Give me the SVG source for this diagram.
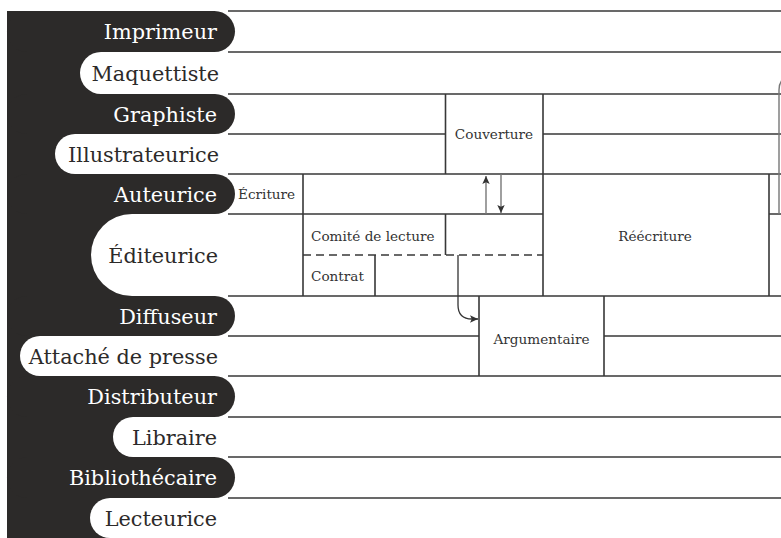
<svg xmlns="http://www.w3.org/2000/svg" width="781" height="538" viewBox="0 0 781 538">
<defs>
<style>
.lbl{font-family:"DejaVu Serif","Liberation Serif",serif;font-size:20.8px;text-anchor:end}
.dk{fill:#2c2a29}
.wt{fill:#ffffff}
.tw{fill:#ffffff}
.td{fill:#2c2a29}
.ln{stroke:#383838;stroke-width:1.6;fill:none}
.dash{stroke:#383838;stroke-width:1.7;fill:none;stroke-dasharray:8 5}
.sm{font-family:"DejaVu Serif","Liberation Serif",serif;font-size:13.6px;fill:#333}
.ar{stroke:#777;stroke-width:1.4;fill:none}
.ard{stroke:#333;stroke-width:1.3;fill:none}
</style>
<marker id="ah" markerWidth="10" markerHeight="10" refX="8" refY="4.5" orient="auto" markerUnits="userSpaceOnUse"><path d="M0,0.8 L8,4.5 L0,8.2 L1.8,4.5 Z" fill="#333"/></marker>
</defs>
<rect width="781" height="538" fill="#ffffff"/>
<rect x="7" y="11" width="208" height="527" class="dk"/>

<g id="roles">
<g id="imprimeur"><rect x="7" y="11" width="228" height="41" rx="20.5" class="dk"/><text x="217" y="39" class="lbl tw">Imprimeur</text></g>
<g id="maquettiste"><rect x="80" y="52" width="800" height="42" rx="21" class="wt"/><text x="219" y="80.5" class="lbl td">Maquettiste</text></g>
<g id="graphiste"><rect x="7" y="94" width="228" height="40" rx="20" class="dk"/><text x="217" y="121.5" class="lbl tw">Graphiste</text></g>
<g id="illustrateurice"><rect x="55" y="134" width="800" height="40" rx="20" class="wt"/><text x="219" y="161.5" class="lbl td">Illustrateurice</text></g>
<g id="auteurice"><rect x="7" y="174" width="228" height="40" rx="20" class="dk"/><text x="217" y="201.5" class="lbl tw">Auteurice</text></g>
<g id="editeurice"><rect x="91" y="214" width="800" height="82" rx="41" class="wt"/><text x="218" y="262.5" class="lbl td">Éditeurice</text></g>
<g id="diffuseur"><rect x="7" y="296" width="228" height="40" rx="20" class="dk"/><text x="217" y="323.5" class="lbl tw">Diffuseur</text></g>
<g id="attache"><rect x="20" y="336" width="800" height="40" rx="20" class="wt"/><text x="218" y="363.5" class="lbl td">Attaché de presse</text></g>
<g id="distributeur"><rect x="7" y="376" width="228" height="41" rx="20.5" class="dk"/><text x="217" y="404" class="lbl tw">Distributeur</text></g>
<g id="libraire"><rect x="113" y="417" width="800" height="40" rx="20" class="wt"/><text x="217" y="444.5" class="lbl td">Libraire</text></g>
<g id="bibliothecaire"><rect x="7" y="457" width="228" height="41" rx="20.5" class="dk"/><text x="217" y="485" class="lbl tw">Bibliothécaire</text></g>
<g id="lecteurice"><rect x="90" y="498" width="800" height="40" rx="20" class="wt"/><text x="217" y="525.5" class="lbl td">Lecteurice</text></g>
</g>

<g id="grid">
<path class="ln" d="M228,11H781 M228,52H781 M228,94H781 M228,134H445.5 M543,134H781 M228,174H781 M228,214H543 M769,214H781 M228,296H781 M228,336H479 M604,336H781 M228,376H781 M228,417H781 M228,457H781 M228,498H781"/>
<path class="dash" d="M303,255H543"/>
<path class="ln" d="M303,174V296 M445.5,94V174 M445.5,214V255 M543,94V296 M375,255V296 M479,296V376 M604,296V376 M769,174V296"/>
</g>

<g id="ecriture"><text x="238" y="199" class="sm">Écriture</text></g>
<g id="couverture"><text x="494" y="139" class="sm" text-anchor="middle">Couverture</text></g>
<g id="comite"><text x="311" y="241" class="sm">Comité de lecture</text></g>
<g id="contrat"><text x="311" y="281" class="sm">Contrat</text></g>
<g id="reecriture"><text x="655" y="240.5" class="sm" text-anchor="middle">Réécriture</text></g>
<g id="argumentaire"><text x="541.5" y="344" class="sm" text-anchor="middle">Argumentaire</text></g>

<g id="connectors">
<path class="ar" d="M486,214V176" marker-end="url(#ah)"/>
<path class="ar" d="M501,174V213" marker-end="url(#ah)"/>
<path class="ard" d="M458,255V305C458,314 463,319 472,319H478" marker-end="url(#ah)"/>
<path class="ar" d="M779,214V90Q779,83 783,79"/>
</g>
</svg>
